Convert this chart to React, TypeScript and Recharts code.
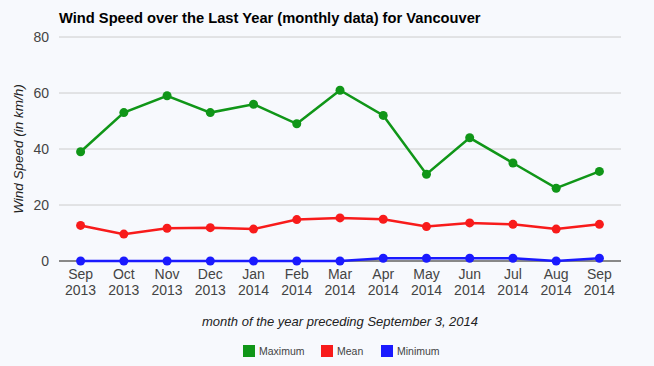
import React from 'react';
import { LineChart, Line, XAxis, YAxis, CartesianGrid, ReferenceLine } from 'recharts';

const months = ['Sep', 'Oct', 'Nov', 'Dec', 'Jan', 'Feb', 'Mar', 'Apr', 'May', 'Jun', 'Jul', 'Aug', 'Sep'];
const years = ['2013', '2013', '2013', '2013', '2014', '2014', '2014', '2014', '2014', '2014', '2014', '2014', '2014'];
const maximum = [39, 53, 59, 53, 56, 49, 61, 52, 31, 44, 35, 26, 32];
const mean = [12.7, 9.6, 11.7, 11.9, 11.4, 14.8, 15.4, 14.9, 12.3, 13.6, 13.1, 11.4, 13.1];
const minimum = [0, 0, 0, 0, 0, 0, 0, 1, 1, 1, 1, 0, 1];
const yTicks = [0, 20, 40, 60, 80];

const data = months.map((m, i) => ({
  label: m + '|' + years[i],
  Maximum: maximum[i],
  Mean: mean[i],
  Minimum: minimum[i],
}));

const FONT = 'Arial, "Liberation Sans", sans-serif';
const GREEN = '#109618';
const RED = '#f81b1b';
const BLUE = '#1a1aff';

const XTick = (props: any) => {
  const { x, y, payload } = props;
  const [m, yr] = String(payload.value).split('|');
  return (
    <text x={x} y={y} textAnchor="middle" fill="#444" fontSize={14} fontFamily={FONT}>
      <tspan x={x} dy={10}>{m}</tspan>
      <tspan x={x} dy={16}>{yr}</tspan>
    </text>
  );
};

const series = [
  { name: 'Maximum', color: GREEN },
  { name: 'Mean', color: RED },
  { name: 'Minimum', color: BLUE },
];

const legendPos = [243, 321, 381];

export default function App() {
  return (
    <div style={{ position: 'absolute', left: 0, top: 0, width: 654, height: 366, background: '#f7f9fd' }}>
      <svg width={654} height={366} style={{ position: 'absolute', left: 0, top: 0 }}>
        <text x={59} y={23} fontFamily={FONT} fontSize={14.7} fontWeight="bold" fill="#000">
          Wind Speed over the Last Year (monthly data) for Vancouver
        </text>
        <text
          x={18}
          y={149}
          transform="rotate(-90, 18, 149)"
          textAnchor="middle"
          dominantBaseline="central"
          fontFamily={FONT}
          fontSize={13.5}
          fontStyle="italic"
          fill="#222"
        >
          Wind Speed (in km/h)
        </text>
        <text x={340} y={326} textAnchor="middle" fontFamily={FONT} fontSize={13} fontStyle="italic" fill="#222">
          month of the year preceding September 3, 2014
        </text>
        {series.map((s, i) => (
          <g key={s.name}>
            <rect x={legendPos[i]} y={345} width={12} height={12} fill={s.color} />
            <text x={legendPos[i] + 16} y={355} fontFamily={FONT} fontSize={10.5} fill="#444">
              {s.name}
            </text>
          </g>
        ))}
      </svg>
      <div style={{ position: 'absolute', left: 0, top: 0 }}>
        <LineChart width={654} height={366} data={data} margin={{ top: 37, right: 33, bottom: 65, left: 0 }}>
          <CartesianGrid vertical={false} stroke="#cccccc" />
          <XAxis
            dataKey="label"
            axisLine={false}
            tickLine={false}
            tick={<XTick />}
            padding={{ left: 21.6, right: 21.6 }}
            interval={0}
            height={40}
          />
          <YAxis
            domain={[0, 80]}
            ticks={yTicks}
            width={59}
            axisLine={false}
            tickLine={false}
            tickSize={0}
            tickMargin={10}
            tick={{ fill: '#444', fontSize: 14, fontFamily: FONT }}
          />
          <ReferenceLine y={0} stroke="#888" strokeWidth={2} />
          {series.map((s) => (
            <Line
              key={s.name}
              type="linear"
              dataKey={s.name}
              stroke={s.color}
              strokeWidth={2.5}
              dot={{ r: 4.5, fill: s.color, stroke: s.color, strokeWidth: 0 }}
              activeDot={false}
              isAnimationActive={false}
            />
          ))}
        </LineChart>
      </div>
    </div>
  );
}
